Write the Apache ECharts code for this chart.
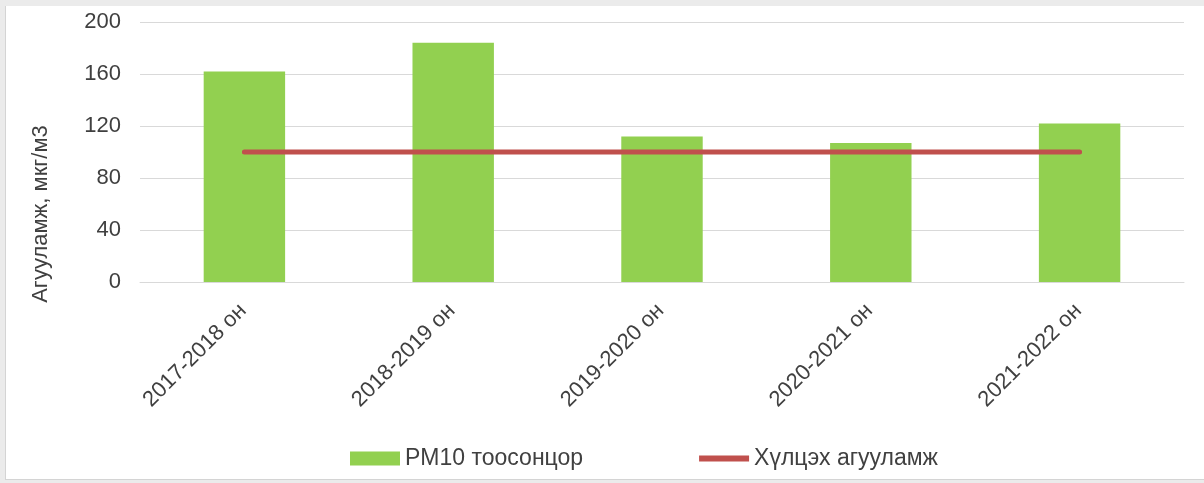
<!DOCTYPE html>
<html>
<head>
<meta charset="utf-8">
<script src="https://cdn.jsdelivr.net/npm/echarts@6/dist/echarts.min.js"></script>
<style>
  html, body { margin: 0; padding: 0; background: #ebebeb; }
  .wrap {
    position: absolute; left: 5px; top: 6px;
    width: 1198px; height: 473px;
    background: #fff;
    border-left: 1px solid #d4d4d4;
    border-bottom: 1px solid #d4d4d4;
  }
  #chart { width: 1198px; height: 473px; }
</style>
</head>
<body>
<div class="wrap"><div id="chart"></div></div>
<script>
// seasons
const categories = ['2017-2018 он', '2018-2019 он', '2019-2020 он', '2020-2021 он', '2021-2022 он']
// PM10 average concentration, мкг/м3
const pm10Values = [162, 184, 112, 107, 122]
// permitted level
const limitValues = [100, 100, 100, 100, 100]
const yTicks = [0, 40, 80, 120, 160, 200]

const textColor = '#404040'
const font = 'Liberation Sans, Arial, sans-serif'

const chart = echarts.init(document.getElementById('chart'))
const options = {
  animation: false,
  textStyle: { fontFamily: font },
  grid: {
    left: 134,
    top: 16,
    width: 1044,
    height: 260,
    containLabel: false,
  },
  legend: {
    left: 339,
    top: 436,
    itemGap: 116,
    itemWidth: 50,
    itemHeight: 14,
    textStyle: { fontSize: 23, color: textColor, fontFamily: font },
    data: [
      { name: 'PM10 тоосонцор', icon: 'rect', itemStyle: {} },
      { name: 'Хүлцэх агууламж', icon: 'path://M0,0 L50,0 L50,6 L0,6 Z' },
    ],
  },
  xAxis: {
    type: 'category',
    data: categories,
    boundaryGap: true,
    axisLine: { show: true, lineStyle: { color: '#d9d9d9', width: 1 } },
    axisTick: { show: false },
    axisLabel: {
      rotate: 45,
      interval: 0,
      margin: 24,
      padding: [0, 2, 0, 0],
      fontSize: 22,
      color: textColor,
      fontFamily: font,
    },
  },
  yAxis: {
    type: 'value',
    min: yTicks[0],
    max: yTicks[yTicks.length - 1],
    interval: 40,
    name: 'Агууламж, мкг/м3',
    nameLocation: 'middle',
    nameGap: 88,
    nameRotate: 90,
    nameTextStyle: {
      fontSize: 22,
      color: textColor,
      fontFamily: font,
      padding: [0, 124, 0, 0],
    },
    axisLine: { show: false },
    axisTick: { show: false },
    axisLabel: { fontSize: 22, color: textColor, margin: 19, fontFamily: font },
    splitLine: { lineStyle: { color: '#d9d9d9', width: 1 } },
  },
  series: [
    {
      name: 'PM10 тоосонцор',
      type: 'bar',
      data: pm10Values,
      barWidth: '39%',
      itemStyle: { color: '#92d050' },
    },
    {
      name: 'Хүлцэх агууламж',
      type: 'line',
      data: limitValues,
      symbol: 'none',
      lineStyle: { color: '#c0504d', width: 5, cap: 'round' },
      itemStyle: { color: '#c0504d' },
    },
  ],
}
chart.setOption(options, true)
</script>
</body>
</html>
